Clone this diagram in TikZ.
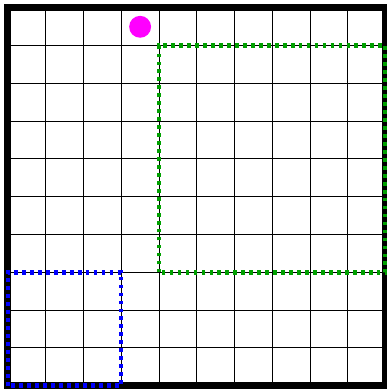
\documentclass[tikz,border=0pt]{standalone}
\usepackage{tikz}

\definecolor{zonegreen}{RGB}{0,160,0}
\definecolor{zoneblue}{RGB}{0,0,255}
\definecolor{agentpink}{RGB}{255,0,255}

\begin{document}
\begin{tikzpicture}[
  gridline/.style={line width=0.75pt},
  frame/.style={line width=5.3pt},
  zone/.style={line width=3.4pt, dash pattern=on 2.8pt off 3.2pt},
]
  \useasboundingbox (-0.21,-0.09) rectangle (10.03,10.21);

  \draw[gridline] (0,0) grid (10,10);
  \draw[frame] (0,0) rectangle (10,10);

  \coordinate (G1) at (4,3);
  \coordinate (G2) at (10,9);
  \coordinate (B1) at (0,0);
  \coordinate (B2) at (3,3);

  \draw[zone, zonegreen] (G1) rectangle (G2);
  \draw[zone, zoneblue] (B1) rectangle (B2);

  \node[circle, fill=agentpink, inner sep=0pt, minimum size=0.58cm] (agent) at (3.5,9.5) {};
\end{tikzpicture}
\end{document}
